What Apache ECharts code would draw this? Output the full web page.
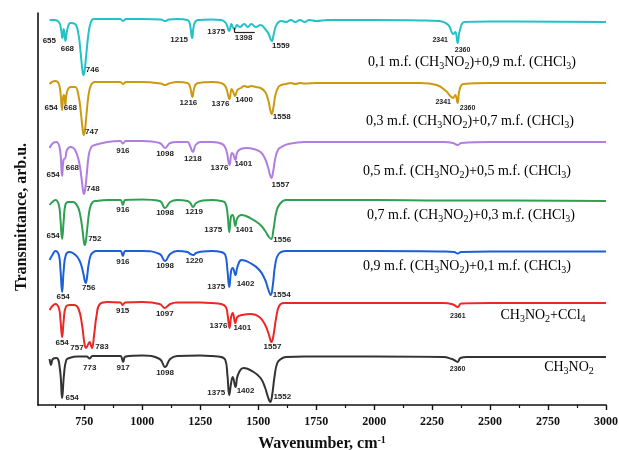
<!DOCTYPE html>
<html>
<head>
<meta charset="utf-8">
<script src="https://cdn.jsdelivr.net/npm/echarts@6/dist/echarts.min.js"></script>
<style>
html,body{margin:0;padding:0;background:#fff;}
#chart{width:619px;height:450px;}
</style>
</head>
<body>
<div id="chart"></div>
<script>
// Wavenumber axis (cm^-1)
const xMajorTicks = [750, 1000, 1250, 1500, 1750, 2000, 2250, 2500, 2750, 3000];
const xMinorTicks = [625, 875, 1125, 1375, 1625, 1875, 2125, 2375, 2625, 2875];

// IR transmittance traces, stacked (arb. units): [wavenumber, transmittance]
const spec01 = [[600,385],[620,385],[640,383],[650,375],[655,367],[661,376],[668,364],[676,375],[690,382],[710,381],[725,370],[734,352],[741,336],[746,330],[751,334],[758,350],[767,370],[777,382],[790,386],[850,386],[905,386],[916,384],[930,386],[1000,386],[1080,385.5],[1098,384],[1115,385.5],[1150,386],[1195,385],[1205,381],[1215,367],[1224,381],[1240,385],[1300,385.5],[1340,385],[1360,382],[1375,374],[1384,381],[1390,378],[1398,376],[1408,380],[1420,378],[1440,381],[1455,378],[1470,381],[1490,378],[1510,380],[1530,376],[1545,371],[1553,366],[1559,364],[1566,370],[1576,379],[1588,383],[1600,384],[1620,383],[1640,385],[1660,383],[1680,385],[1700,383],[1720,385],[1750,384],[1800,385],[2000,385],[2200,384.5],[2280,384],[2320,380],[2341,371],[2350,373],[2360,362],[2370,375],[2390,383],[2500,383.5],[3000,383]];
const spec03 = [[600,321],[610,323],[625,324],[640,321],[648,310],[654,295],[660,310],[664,309],[668,300],[674,312],[690,318],[710,318],[725,309],[735,292],[742,277],[747,270],[752,274],[759,290],[768,310],[779,320],[795,323],[850,323],[905,323],[916,321],[930,323],[1000,323],[1080,321.5],[1098,320],[1115,321.5],[1150,323],[1195,322],[1206,318],[1216,308],[1225,318],[1240,322],[1300,323],[1340,322],[1360,318],[1376,306],[1385,316],[1392,313],[1400,309],[1410,315],[1425,317],[1440,319],[1455,318],[1470,319],[1490,318],[1510,317],[1530,313],[1543,305],[1552,295],[1558,291],[1565,297],[1574,310],[1587,318],[1600,320],[1620,321],[1640,322],[1660,321],[1680,322],[1700,321.5],[1750,322],[1800,322],[2000,322],[2200,322],[2270,320],[2310,314],[2341,307],[2350,310],[2360,302],[2368,315],[2385,321],[2500,322],[3000,322]];
const spec05 = [[600,257],[615,262],[630,263],[645,255],[654,229],[660,245],[668,247],[675,255],[690,258],[710,255],[728,242],[737,228],[744,215],[748,211],[753,215],[760,230],[769,250],[780,258],[795,260],[850,263],[905,264],[916,261.5],[928,264],[1000,264],[1075,262],[1098,257],[1120,262],[1150,263],[1195,263],[1206,259],[1218,253],[1230,260],[1250,263],[1300,263],[1345,261],[1362,255],[1376,240],[1386,252],[1392,251],[1401,245],[1410,253],[1425,256],[1450,257],[1480,256],[1510,253],[1530,246],[1543,237],[1551,230],[1557,227],[1564,233],[1573,246],[1585,255],[1600,258],[1630,261],[1700,263],[1800,263],[2000,263],[2300,263],[2340,262],[2360,260],[2375,262],[2500,263],[3000,263]];
const spec07 = [[600,200],[612,203],[625,205],[640,200],[647,185],[654,166],[661,185],[668,200],[680,203],[700,203],[720,199],[732,190],[742,175],[748,163],[752,160],[757,165],[764,180],[774,197],[786,203],[800,204],[850,205],[905,205],[916,200],[927,205],[1000,205.5],[1075,204],[1098,197],[1120,203],[1150,205],[1195,204],[1207,202],[1219,198],[1232,202],[1260,204.5],[1300,205],[1340,204],[1358,202],[1368,190],[1375,173],[1383,189],[1390,190],[1401,179],[1410,187],[1428,190],[1465,187],[1505,181],[1530,174],[1546,168],[1556,166],[1566,176],[1578,193],[1593,201],[1620,205],[1700,205],[1800,205],[2000,205],[2300,204.5],[2500,204.5],[3000,204]];
const spec09 = [[600,145],[612,150],[625,154],[640,150],[647,135],[654,113],[661,135],[670,150],[685,153],[700,152],[720,148],[735,141],[746,131],[752,124],[756,122],[761,127],[768,140],[778,150],[790,153],[800,154],[850,154],[905,154],[916,149],[927,154],[1000,154],[1075,151],[1098,144],[1120,151],[1150,154],[1195,153],[1207,151],[1220,150],[1232,152],[1260,153.5],[1300,154],[1340,153],[1358,150],[1367,135],[1375,118],[1383,134],[1390,137],[1402,130],[1410,138],[1428,145],[1465,142],[1505,135],[1530,125],[1544,115],[1554,110],[1563,120],[1573,140],[1588,151],[1620,154],[1700,154],[2000,154],[2300,153.5],[2345,153],[2360,151.5],[2375,153],[2500,153.5],[3000,153.5]];
const specCCl4 = [[600,95],[612,99],[625,101],[640,97],[647,85],[654,68],[661,85],[670,98],[687,100],[705,100],[725,96],[740,80],[750,62],[757,57],[765,60],[773,63],[778,60],[783,57],[792,70],[803,90],[817,101],[850,103],[905,102.5],[915,100],[926,102.5],[1000,103],[1075,101],[1097,97],[1120,101],[1150,102.5],[1250,102.5],[1300,102],[1340,101],[1360,98],[1368,90],[1376,77],[1383,88],[1390,92],[1401,82],[1410,88],[1430,90],[1470,91],[1505,88],[1530,80],[1545,71],[1557,63],[1566,70],[1577,87],[1590,99],[1610,102],[1700,102],[2000,102],[2300,102],[2340,100.5],[2361,98],[2375,101.5],[2500,102],[2800,102],[3000,102]];
const specPure = [[600,46],[606,40],[614,46],[630,47],[645,35],[654,7],[662,30],[672,45],[685,47],[720,48.5],[760,48.5],[773,46.5],[785,49],[850,49],[905,49],[917,43],[928,48.5],[1000,49.5],[1075,46],[1098,38],[1120,46],[1150,49],[1250,49.5],[1300,49],[1340,48],[1358,45],[1367,30],[1375,10],[1383,22],[1390,28],[1402,18],[1412,30],[1437,37],[1480,33],[1510,27],[1530,17],[1542,8],[1552,3],[1560,10],[1570,28],[1582,42],[1598,46],[1620,48],[1700,48.5],[1800,48.5],[2000,48.5],[2300,48],[2335,46],[2345,45],[2360,43],[2372,47],[2400,48],[2600,48],[3000,48]];

// Assigned band positions (cm^-1)
const peaks01 = [655, 668, 746, 1215, 1375, 1398, 1559, 2341, 2360];
const peaks03 = [654, 668, 747, 1216, 1376, 1400, 1558, 2341, 2360];
const peaks05 = [654, 668, 748, 916, 1098, 1218, 1376, 1401, 1557];
const peaks07 = [654, 752, 916, 1098, 1219, 1375, 1401, 1556];
const peaks09 = [654, 756, 916, 1098, 1220, 1375, 1402, 1554];
const peaksCCl4 = [654, 757, 783, 915, 1097, 1376, 1401, 1557, 2361];
const peaksPure = [654, 773, 917, 1098, 1375, 1402, 1552, 2360];

// Pixel offsets of each band label from its minimum
const tagOffsets01 = [[-13,3],[2,8],[9,-5],[-13,2],[-13,1],[9,9],[9,5],[-13,6],[5,7]];
const tagOffsets03 = [[-11,-2],[5,3],[8,-3],[-4,6],[-9,5],[9,4],[10,3],[-10,4],[10,5]];
const tagOffsets05 = [[-9,-1],[7,10],[9,-5],[0,7],[0,6],[0,7],[-10,3],[8,4],[9,7]];
const tagOffsets07 = [[-9,-3],[10,-6],[0,5],[0,5],[1,5],[-16,-2],[9,4],[11,1]];
const tagOffsets09 = [[1,5],[3,5],[0,6],[0,5],[1,6],[-13,0],[10,9],[11,0]];
const tagOffsetsCCl4 = [[0,6],[-9,0],[10,-1],[0,6],[0,6],[-11,-2],[7,5],[1,5],[0,9]];
const tagOffsetsPure = [[10,0],[0,9],[0,6],[0,6],[-13,-2],[10,4],[12,-5],[0,7]];

const traces = [
  {data: spec01, peaks: peaks01, offs: tagOffsets01, color: '#22C2C7'},
  {data: spec03, peaks: peaks03, offs: tagOffsets03, color: '#CC9A10'},
  {data: spec05, peaks: peaks05, offs: tagOffsets05, color: '#B07DE0'},
  {data: spec07, peaks: peaks07, offs: tagOffsets07, color: '#2FA052'},
  {data: spec09, peaks: peaks09, offs: tagOffsets09, color: '#1D5FD6'},
  {data: specCCl4, peaks: peaksCCl4, offs: tagOffsetsCCl4, color: '#EC2727'},
  {data: specPure, peaks: peaksPure, offs: tagOffsetsPure, color: '#333333'}
];

const serif = "'Liberation Serif', 'Times New Roman', serif";
const sans = "'Liberation Sans', Arial, sans-serif";

function valueAt(data, wn) {
  const p = data.find(d => d[0] === wn);
  return p ? p[1] : null;
}

const series = traces.map((t, k) => {
  const s = {
    type: 'line',
    data: t.data,
    smooth: 0.45,
    showSymbol: false,
    silent: true,
    lineStyle: {color: t.color, width: 2},
    itemStyle: {color: t.color},
    markPoint: {
      silent: true,
      symbol: 'circle',
      symbolSize: 1,
      itemStyle: {color: 'rgba(0,0,0,0)'},
      label: {
        show: true, position: 'inside', color: '#1e1e1e',
        fontFamily: sans, fontWeight: 'bold', fontSize: 8
      },
      data: t.peaks.map((wn, i) => ({
        coord: [wn, valueAt(t.data, wn)],
        label: {offset: t.offs[i], formatter: String(wn), fontSize: wn > 2300 ? 7 : 8}
      }))
    }
  };
  if (k === 0) {
    // bracket under the 1398 band group
    s.markLine = {
      silent: true, symbol: 'none',
      lineStyle: {color: '#222', width: 1.2, type: 'solid'},
      label: {show: false},
      data: [
        [{coord: [1398, 377]}, {coord: [1398, 372.5]}],
        [{coord: [1398, 372.5]}, {coord: [1485, 372.5]}]
      ]
    };
  }
  return s;
});

const nameRich = {
  a: {fontFamily: serif, fontSize: 14, color: '#1a1a1a', lineHeight: 16, verticalAlign: 'top'},
  s: {fontFamily: serif, fontSize: 10, color: '#1a1a1a', lineHeight: 6, verticalAlign: 'bottom'}
};
function formula(parts) {
  return parts.map(p => Array.isArray(p) ? '{s|' + p[0] + '}' : '{a|' + p + '}').join('');
}
const sampleNames = [
  {x: 472, y: 63, parts: ['0,1 m.f. (CH', ['3'], 'NO', ['2'], ')+0,9 m.f. (CHCl', ['3'], ')']},
  {x: 470, y: 122, parts: ['0,3 m.f. (CH', ['3'], 'NO', ['2'], ')+0,7 m.f. (CHCl', ['3'], ')']},
  {x: 467, y: 172, parts: ['0,5 m.f. (CH', ['3'], 'NO', ['2'], ')+0,5 m.f. (CHCl', ['3'], ')']},
  {x: 471, y: 216, parts: ['0,7 m.f. (CH', ['3'], 'NO', ['2'], ')+0,3 m.f. (CHCl', ['3'], ')']},
  {x: 467, y: 267, parts: ['0,9 m.f. (CH', ['3'], 'NO', ['2'], ')+0,1 m.f. (CHCl', ['3'], ')']},
  {x: 543, y: 316, parts: ['CH', ['3'], 'NO', ['2'], '+CCl', ['4']]},
  {x: 569, y: 368, parts: ['CH', ['3'], 'NO', ['2']]}
];

const chart = echarts.init(document.getElementById('chart'), null, {renderer: 'canvas'});
chart.setOption({
  animation: false,
  backgroundColor: '#fff',
  grid: {left: 38, right: 13, top: 13, bottom: 45, outerBoundsMode: 'none', containLabel: false},
  xAxis: [{
    type: 'value', min: 550, max: 3000,
    name: '{t|Wavenumber, cm}{u|-1}',
    nameLocation: 'middle', nameGap: 30,
    nameTextStyle: {
      rich: {
        t: {fontFamily: serif, fontWeight: 'bold', fontSize: 16, color: '#111', lineHeight: 18},
        u: {fontFamily: serif, fontWeight: 'bold', fontSize: 10, color: '#111', lineHeight: 6, verticalAlign: 'top'}
      }
    },
    splitLine: {show: false},
    axisLine: {show: true, onZero: false, lineStyle: {color: '#111', width: 1.6}},
    axisTick: {show: true, inside: false, length: 5, customValues: xMajorTicks, lineStyle: {color: '#111', width: 1.4}},
    axisLabel: {
      show: true, customValues: xMajorTicks, margin: 11,
      formatter: v => String(v),
      fontFamily: serif, fontWeight: 'bold', fontSize: 12, color: '#111'
    }
  }, {
    type: 'value', min: 550, max: 3000, position: 'bottom',
    splitLine: {show: false},
    axisLine: {show: false},
    axisTick: {show: true, inside: false, length: 3, customValues: xMinorTicks, lineStyle: {color: '#111', width: 1.2}},
    axisLabel: {show: false}
  }],
  yAxis: {
    type: 'value', min: 0, max: 392,
    name: 'Transmittance, arb.u.',
    nameLocation: 'middle', nameGap: 8,
    nameTextStyle: {fontFamily: serif, fontWeight: 'bold', fontSize: 16, color: '#111', padding: [0, 16, 0, 0]},
    splitLine: {show: false},
    axisLine: {show: true, lineStyle: {color: '#111', width: 1.6}},
    axisTick: {show: false},
    axisLabel: {show: false}
  },
  series: series,
  graphic: sampleNames.map(n => ({
    type: 'text', silent: true, x: n.x, y: n.y,
    style: {
      text: formula(n.parts), rich: nameRich,
      align: 'center', verticalAlign: 'middle'
    }
  }))
});
</script>
</body>
</html>
